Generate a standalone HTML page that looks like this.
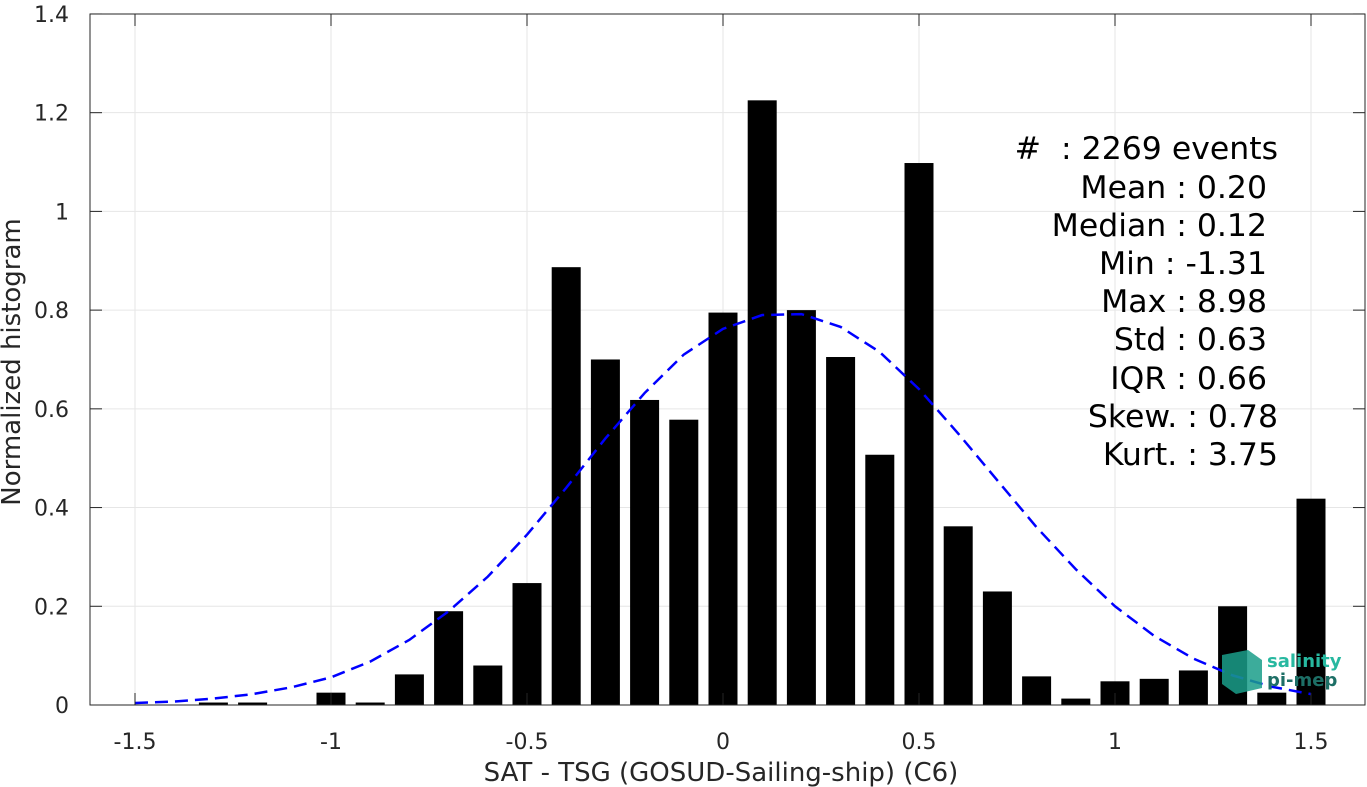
<!DOCTYPE html>
<html><head><meta charset="utf-8"><style>
body{margin:0;background:#fff;}
svg{display:block;font-family:"DejaVu Sans","Liberation Sans",sans-serif;}
</style></head><body>
<svg id="chart" width="1367" height="787">
<g id="grid"></g>
<g id="bars"></g>
<g id="curve"></g>
<rect x="90" y="14" width="1275" height="691" fill="none" stroke="#262626" stroke-width="1"/>
<g id="ticks"></g>
<text x="721" y="781" font-size="26" fill="#262626" text-anchor="middle">SAT - TSG (GOSUD-Sailing-ship) (C6)</text>
<text transform="translate(20,362) rotate(-90)" font-size="26" fill="#262626" text-anchor="middle">Normalized histogram</text>
<g font-size="31.5" fill="#000" text-anchor="end">
<text x="1278" y="159" xml:space="preserve">#  : 2269 events</text>
<text x="1267" y="198">Mean : 0.20</text>
<text x="1267" y="236">Median : 0.12</text>
<text x="1267" y="274">Min : -1.31</text>
<text x="1267" y="312">Max : 8.98</text>
<text x="1267" y="350">Std : 0.63</text>
<text x="1267" y="389">IQR : 0.66</text>
<text x="1278" y="427">Skew. : 0.78</text>
<text x="1278" y="465">Kurt. : 3.75</text>
</g>
<g>
<polygon points="1222,655 1248,650 1262,660 1262,688 1236,694 1222,684" fill="#1a9e8a" opacity="0.85"/>
<text x="1267" y="667" font-size="18" font-weight="bold" fill="#27b8a0">salinity</text>
<text x="1267" y="686" font-size="18" font-weight="bold" fill="#1d6f66">pi-mep</text>
</g>
</svg>
<script>
const categories=[-1.5,-1.4,-1.3,-1.2,-1.1,-1.0,-0.9,-0.8,-0.7,-0.6,-0.5,-0.4,-0.3,-0.2,-0.1,0,0.1,0.2,0.3,0.4,0.5,0.6,0.7,0.8,0.9,1.0,1.1,1.2,1.3,1.4,1.5];
const histValues=[0,0,0.005,0.005,0,0.025,0.005,0.062,0.19,0.08,0.247,0.887,0.70,0.618,0.578,0.795,1.225,0.80,0.705,0.507,1.098,0.362,0.23,0.058,0.013,0.048,0.053,0.07,0.20,0.025,0.418];
const fitX=[-1.5,-1.4,-1.3,-1.2,-1.1,-1.0,-0.9,-0.8,-0.7,-0.6,-0.5,-0.4,-0.3,-0.2,-0.1,0,0.1,0.2,0.3,0.4,0.5,0.6,0.7,0.8,0.9,1.0,1.1,1.2,1.3,1.4,1.5];
const fitY=[0.004,0.007,0.013,0.022,0.036,0.056,0.088,0.132,0.19,0.26,0.345,0.44,0.54,0.632,0.71,0.762,0.79,0.792,0.766,0.715,0.64,0.55,0.455,0.36,0.275,0.2,0.14,0.094,0.06,0.037,0.022];
const xTicks=[-1.5,-1,-0.5,0,0.5,1,1.5];
const xTickLabels=["-1.5","-1","-0.5","0","0.5","1","1.5"];
const yTicks=[0,0.2,0.4,0.6,0.8,1,1.2,1.4];
const yTickLabels=["0","0.2","0.4","0.6","0.8","1","1.2","1.4"];

const NS="http://www.w3.org/2000/svg";
const xs=v=>723+v*392;
const ys=v=>705-v*493.6;
function mk(tag,attrs,parent){const e=document.createElementNS(NS,tag);for(const k in attrs)e.setAttribute(k,attrs[k]);parent.appendChild(e);return e;}
const grid=document.getElementById('grid'),bars=document.getElementById('bars'),curve=document.getElementById('curve'),ticks=document.getElementById('ticks');
xTicks.forEach((t,i)=>{
  const g=mk('line',{x1:xs(t),x2:xs(t),y1:14,y2:705,stroke:'#e6e6e6'},grid);
  
  
  mk('line',{x1:xs(t),x2:xs(t),y1:705,y2:693,stroke:'#262626'},ticks);
  mk('line',{x1:xs(t),x2:xs(t),y1:14,y2:26,stroke:'#262626'},ticks);
  const l=mk('text',{x:xs(t),y:749,'font-size':22,fill:'#262626','text-anchor':'middle'},ticks);
  l.textContent=xTickLabels[i];
  
  
});
yTicks.forEach((t,i)=>{
  const g=mk('line',{x1:90,x2:1365,y1:ys(t),y2:ys(t),stroke:'#e6e6e6'},grid);
  
  
  mk('line',{x1:90,x2:102,y1:ys(t),y2:ys(t),stroke:'#262626'},ticks);
  mk('line',{x1:1353,x2:1365,y1:ys(t),y2:ys(t),stroke:'#262626'},ticks);
  const l=mk('text',{x:69,y:ys(t)+8,'font-size':22,fill:'#262626','text-anchor':'end'},ticks);
  l.textContent=yTickLabels[i];
  
  
});
categories.forEach((c,i)=>{
  const v=histValues[i]; if(v<=0) return;
  const b=mk('rect',{x:xs(c)-14.5,y:ys(v),width:29,height:ys(0)-ys(v),fill:'#000'},bars);
  
  
});
const p=mk('path',{d:fitX.map((x,i)=>(i?'L':'M')+xs(x)+','+ys(fitY[i])).join(' '),fill:'none',stroke:'#0000ff','stroke-width':2.5,'stroke-dasharray':'13,7'},curve);


</script>
</body></html>
